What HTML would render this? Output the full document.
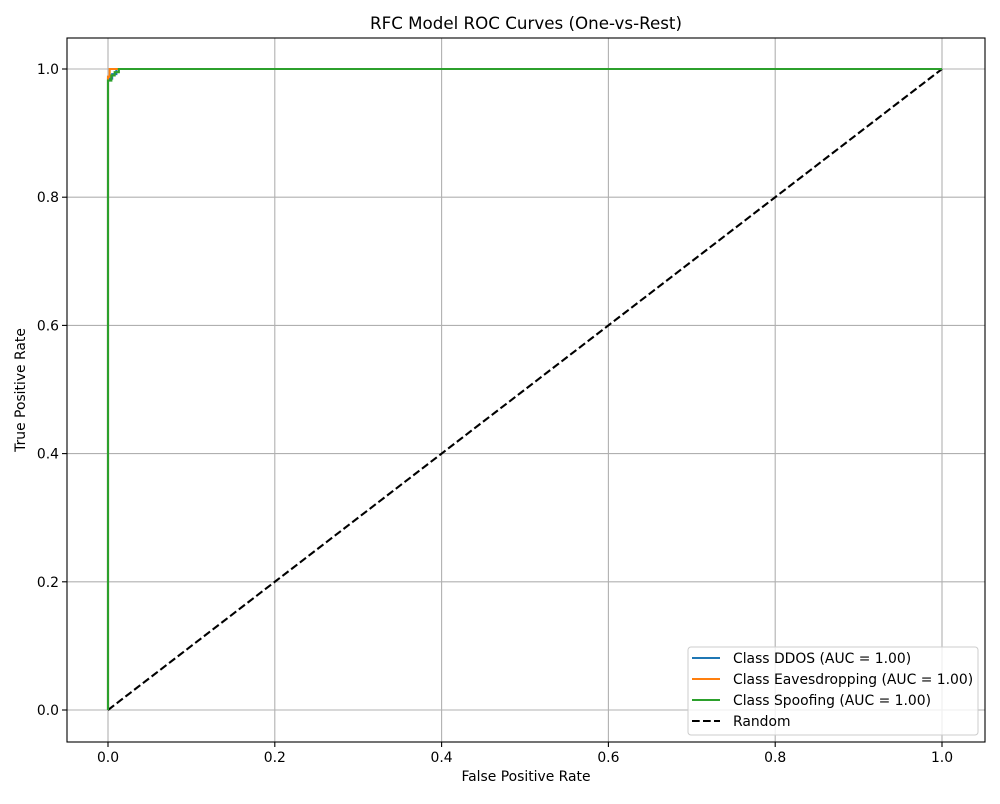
<!DOCTYPE html>
<html><head><meta charset="utf-8"><style>
body{margin:0;background:#fff;font-family:"DejaVu Sans","Liberation Sans",sans-serif}
svg text{font-family:"DejaVu Sans","Liberation Sans",sans-serif}
</style></head><body>
<svg id="c" width="1000" height="800"></svg>
<script>
const xTicks=[0,0.2,0.4,0.6,0.8,1.0];
const yTicks=[0,0.2,0.4,0.6,0.8,1.0];
const ddosFpr=[0,0,0.005,0.005,0.01,0.01,1];
const ddosTpr=[0,0.985,0.985,0.992,0.992,1,1];
const eavesFpr=[0,0,0.002,0.002,1];
const eavesTpr=[0,0.988,0.988,1,1];
const spoofFpr=[0,0,0.004,0.004,0.008,0.008,0.013,0.013,1];
const spoofTpr=[0,0.982,0.982,0.99,0.99,0.995,0.995,1,1];
const randomFpr=[0,1];
const randomTpr=[0,1];
const seriesNames=["Class DDOS (AUC = 1.00)","Class Eavesdropping (AUC = 1.00)","Class Spoofing (AUC = 1.00)","Random"];

const svg=document.getElementById('c');const NS='http://www.w3.org/2000/svg';
const L=67,R=985,T=38,B=742;
const X=v=>108+v*834, Y=v=>710-v*641;
function el(t,a,txt){const e=document.createElementNS(NS,t);for(const k in a)e.setAttribute(k,a[k]);if(txt!==undefined)e.textContent=txt;svg.appendChild(e);return e;}
xTicks.forEach(v=>{
 const g=el('line',{x1:X(v),x2:X(v),y1:T,y2:B,stroke:'#b0b0b0','stroke-width':1.1});
 
 el('line',{x1:X(v),x2:X(v),y1:B,y2:B+5,stroke:'#000','stroke-width':1.1});
 const t=el('text',{x:X(v),y:B+20,'text-anchor':'middle','font-size':13.9},v.toFixed(1));
 
});
yTicks.forEach(v=>{
 const g=el('line',{x1:L,x2:R,y1:Y(v),y2:Y(v),stroke:'#b0b0b0','stroke-width':1.1});
 
 el('line',{x1:L-5,x2:L,y1:Y(v),y2:Y(v),stroke:'#000','stroke-width':1.1});
 const t=el('text',{x:L-8,y:Y(v)+5,'text-anchor':'end','font-size':13.9},v.toFixed(1));
 
});
function line(xs,ys,color,name,dash){
 const p=el('polyline',{points:xs.map((x,i)=>X(x)+','+Y(ys[i])).join(' '),fill:'none',stroke:color,'stroke-width':2.1});
 if(dash)p.setAttribute('stroke-dasharray','7.7,3.3');
 
}
line(ddosFpr,ddosTpr,'#1f77b4','ddos-roc-line');
line(eavesFpr,eavesTpr,'#ff7f0e','eavesdropping-roc-line');
line(randomFpr,randomTpr,'#000','random-line',true);
line(spoofFpr,spoofTpr,'#2ca02c','spoofing-roc-line');
const fr=el('rect',{x:L,y:T,width:R-L,height:B-T,fill:'none',stroke:'#000','stroke-width':1.1});

const ti=el('text',{x:(L+R)/2,y:29,'text-anchor':'middle','font-size':16.7},'RFC Model ROC Curves (One-vs-Rest)');

const xl=el('text',{x:(L+R)/2,y:781,'text-anchor':'middle','font-size':13.9},'False Positive Rate');

const yl=el('text',{x:25,y:(T+B)/2,'text-anchor':'middle','font-size':13.9,transform:'rotate(-90 25 '+(T+B)/2+')'},'True Positive Rate');

const lg=el('rect',{x:688,y:647,width:290,height:88,fill:'#fff','fill-opacity':0.8,stroke:'#ccc',rx:3});

const cols=['#1f77b4','#ff7f0e','#2ca02c','#000'];
seriesNames.forEach((n,i)=>{
 const y=658+i*21;
 const s=el('line',{x1:692,x2:720,y1:y,y2:y,stroke:cols[i],'stroke-width':2.1});
 if(i==3)s.setAttribute('stroke-dasharray','7.7,3.3');
 
 const t=el('text',{x:733,y:y+5,'font-size':13.9},n);
 
});
</script>
</body></html>
